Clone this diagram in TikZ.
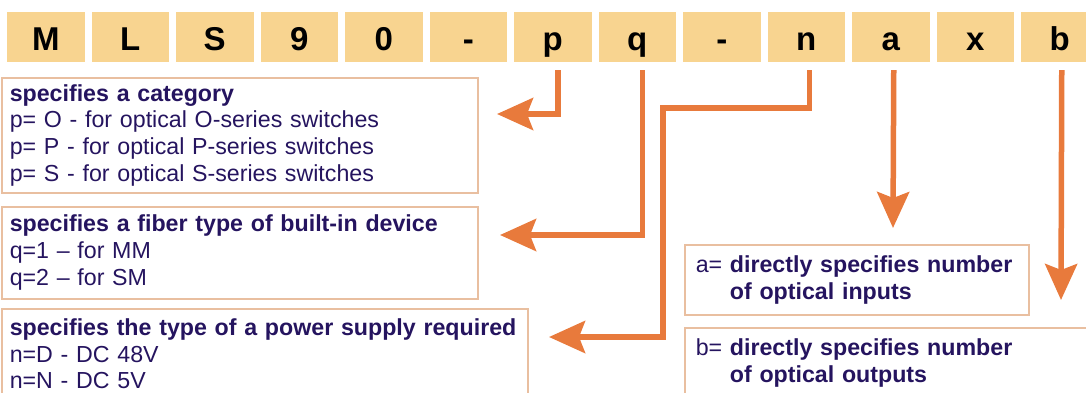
\documentclass[tikz,border=0pt]{standalone}
\usepackage{fontspec}
\setmainfont{Liberation Sans}
\usetikzlibrary{arrows.meta}

\begin{document}
\begin{tikzpicture}[x=1pt, y=-1pt,
    letterbox/.style={fill=keyFill, minimum width=77.5pt, minimum height=50pt, inner sep=0pt,
        text height=26pt, text depth=0pt, font=\fontsize{33}{36}\selectfont\bfseries},
    infobox/.style={draw=boxBorder, line width=1.5pt, anchor=north west, align=left,
        inner xsep=8pt, inner ysep=0pt, text=textColour, font=\fontsize{23.2}{26.8}\selectfont},
    pointer/.style={draw=arrowColour, line width=5.5pt, -{Stealth[length=36pt, width=32pt, inset=6pt]}}]
    % Define colours
    \definecolor{keyFill}{HTML}{F8D490}
    \definecolor{boxBorder}{HTML}{E9BFA0}
    \definecolor{arrowColour}{HTML}{E87A3C}
    \definecolor{textColour}{HTML}{25145F}

    % Define key layout
    \def\keyStart{7}
    \def\keyPitch{84.5}

    % Fix the page size
    \useasboundingbox (0,0) rectangle (1086,392);
    \clip (0,0) rectangle (1086,392);

    % Draw the code letters
    \foreach \ch [count=\i] in {M,L,S,9,0,-,p,q,-,n,a,x,b}
        \node[letterbox] (k\i) at ({\keyStart+38.75+\keyPitch*(\i-1)},37) {\ch};

    % Draw the description boxes
    \node[infobox, text width=460pt, minimum height=115pt] (category) at (1,77)
        {\textbf{specifies a category}\\
         p= O - for optical O-series switches\\
         p= P - for optical P-series switches\\
         p= S - for optical S-series switches};
    \node[infobox, text width=460pt, minimum height=92pt] (fiber) at (1,206)
        {\textbf{specifies a fiber type of built-in device}\\
         q=1 -- for MM\\
         q=2 -- for SM};
    \node[infobox, text width=510pt, minimum height=90pt] (power) at (1,308)
        {\mbox{\textbf{specifies the type of a power supply required}}\\
         n=D - DC 48V\\
         n=N - DC 5V};
    \node[infobox, text width=322pt, minimum height=70pt, inner xsep=11pt] (inputs) at (684,244)
        {a= \textbf{directly specifies number}\\
         \phantom{a=}\ \textbf{of optical inputs}};
    \node[infobox, text width=398pt, minimum height=70pt, inner xsep=11pt] (outputs) at (684,327)
        {b= \textbf{directly specifies number}\\
         \phantom{b=}\ \textbf{of optical outputs}};

    % Define arrow tips and bends
    \coordinate (tipP) at (497,114);
    \coordinate (tipQ) at (500,235);
    \coordinate (bendN) at (663,108);
    \coordinate (tipN) at (549,337);
    \coordinate (tipA) at (893,228);
    \coordinate (tipB) at (1061,300);

    % Draw the arrows
    \draw[pointer] ([xshift=5pt, yshift=-8pt]k7.south) |- (tipP);
    \draw[pointer] ([xshift=5pt, yshift=-8pt]k8.south) |- (tipQ);
    \draw[pointer] ([xshift=3pt, yshift=-8pt]k10.south) |- (bendN) |- (tipN);
    \draw[pointer] ([xshift=3pt, yshift=-8pt]k11.south) -- (tipA);
    \draw[pointer] ([xshift=2pt, yshift=-8pt]k13.south) -- (tipB);

\end{tikzpicture}
\end{document}
